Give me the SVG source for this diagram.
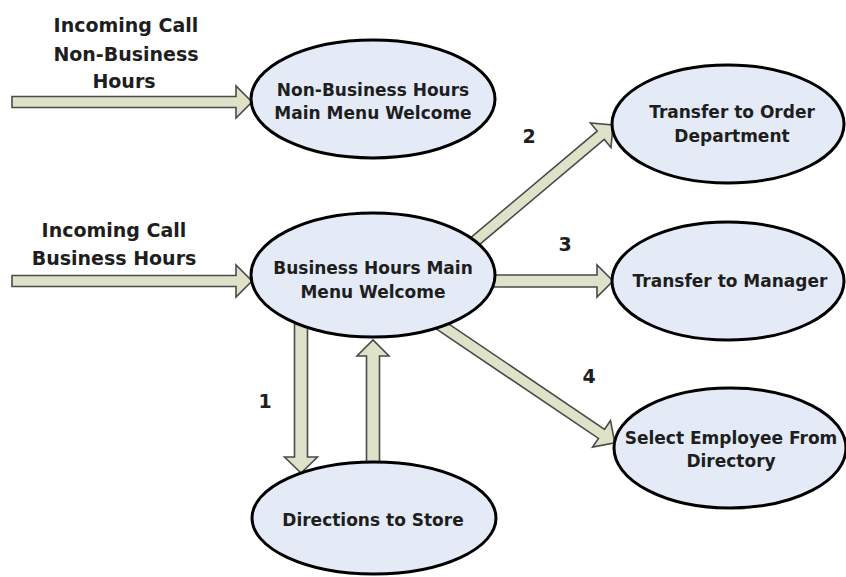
<svg xmlns="http://www.w3.org/2000/svg" width="846" height="577" viewBox="0 0 846 577">
<style>
.arr{fill:#DDE2C9;stroke:#4a4a4a;stroke-width:1.6;stroke-linejoin:miter}
.node ellipse{fill:#E4EBF7;stroke:#000;stroke-width:3}
text{font-family:"DejaVu Sans","Liberation Sans",sans-serif;font-weight:bold;fill:#1e1e1e;text-anchor:middle}
.nt{font-size:17px}
.lbl{font-size:19px}
</style>
<g id="connectors">
<path class="arr" transform="translate(12,102)" d="M0,-5.5 L224,-5.5 L224,-16 L240,0 L224,16 L224,5.5 L0,5.5 Z"/>
<path class="arr" transform="translate(12,281)" d="M0,-5.5 L224,-5.5 L224,-16 L240,0 L224,16 L224,5.5 L0,5.5 Z"/>
<path class="arr" transform="translate(455,258) rotate(-40.1)" d="M0,-5.5 L190.5,-5.5 L190.5,-16 L206.5,0 L190.5,16 L190.5,5.5 L0,5.5 Z"/>
<path class="arr" transform="translate(480,281)" d="M0,-6 L117,-6 L117,-16 L133,0 L117,16 L117,6 L0,6 Z"/>
<path class="arr" transform="translate(430,318) rotate(34.04)" d="M0,-5.5 L207,-5.5 L207,-16 L223,0 L207,16 L207,5.5 L0,5.5 Z"/>
<path class="arr" transform="translate(301,318) rotate(90)" d="M0,-6.5 L139,-6.5 L139,-16.5 L155,0 L139,16.5 L139,6.5 L0,6.5 Z"/>
<path class="arr" transform="translate(373,470) rotate(-90)" d="M0,-6.5 L114,-6.5 L114,-16 L130,0 L114,16 L114,6.5 L0,6.5 Z"/>
</g>
<g id="node-nonbusiness" class="node">
<ellipse cx="373" cy="99" rx="122" ry="59"/>
<text class="nt" x="373" y="96">Non-Business Hours</text>
<text class="nt" x="373" y="119">Main Menu Welcome</text>
</g>
<g id="node-business" class="node">
<ellipse cx="373" cy="275" rx="122" ry="62"/>
<text class="nt" x="373" y="274">Business Hours Main</text>
<text class="nt" x="373" y="298">Menu Welcome</text>
</g>
<g id="node-directions" class="node">
<ellipse cx="374" cy="518" rx="122" ry="56"/>
<text class="nt" x="373" y="526">Directions to Store</text>
</g>
<g id="node-order" class="node">
<ellipse cx="728" cy="124" rx="116" ry="59"/>
<text class="nt" x="732" y="118">Transfer to Order</text>
<text class="nt" x="732" y="142">Department</text>
</g>
<g id="node-manager" class="node">
<ellipse cx="728" cy="281" rx="116" ry="59"/>
<text class="nt" x="730" y="287">Transfer to Manager</text>
</g>
<g id="node-employee" class="node">
<ellipse cx="730" cy="448" rx="116" ry="60"/>
<text class="nt" x="731" y="444">Select Employee From</text>
<text class="nt" x="731" y="467">Directory</text>
</g>
<g id="labels">
<text class="lbl" x="126" y="32">Incoming Call</text>
<text class="lbl" x="126" y="61">Non-Business</text>
<text class="lbl" x="124" y="88">Hours</text>
<text class="lbl" x="114" y="237">Incoming Call</text>
<text class="lbl" x="114" y="265">Business Hours</text>
<text class="lbl" x="265" y="408">1</text>
<text class="lbl" x="529" y="143">2</text>
<text class="lbl" x="565" y="251">3</text>
<text class="lbl" x="589" y="383">4</text>
</g>
</svg>
